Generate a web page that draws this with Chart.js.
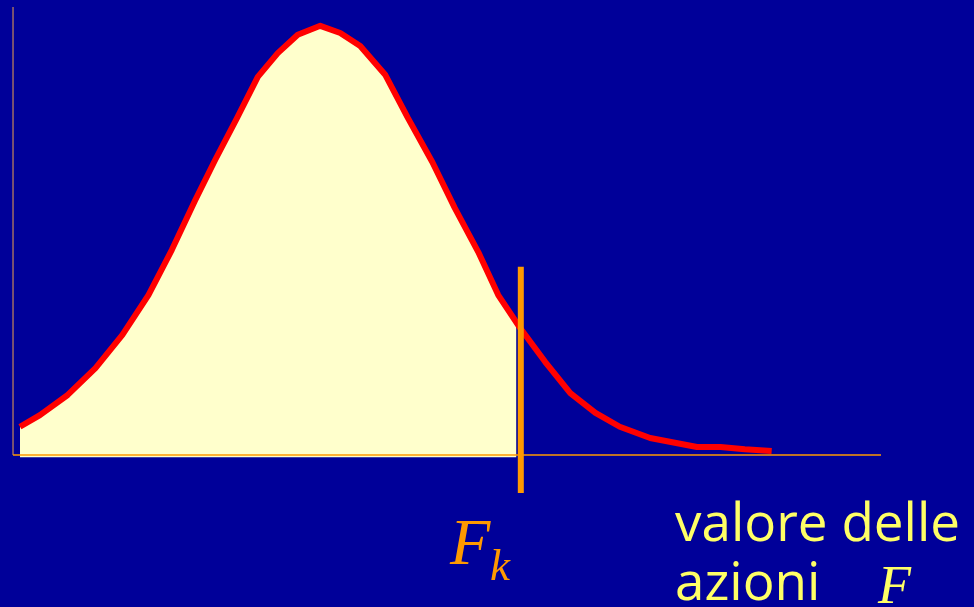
<!DOCTYPE html>
<html>
<head>
<meta charset="utf-8">
<script src="https://cdn.jsdelivr.net/npm/chart.js@4"></script>
<style>
  html, body { margin:0; padding:0; background:#000099; }
  #wrap { width:974px; height:607px; }
</style>
</head>
<body>
<div id="wrap"><canvas id="chart" width="974" height="607"></canvas></div>
<script>
// ── Data (x = share value, y = density, both in 0..100 units) ─────────
const curveX = [0.8, 3.1, 6.3, 9.5, 12.6, 15.6, 18.3, 21.0, 23.3, 25.8, 28.2, 30.5,
                32.8, 35.4, 37.7, 40.0, 42.9, 45.5, 48.3, 50.9, 53.6, 55.9, 58.4,
                61.3, 64.2, 67.1, 69.9, 73.4, 78.8, 81.5, 84.3, 87.4];
const curveY = [6.3, 8.9, 13.4, 19.4, 26.8, 35.7, 45.8, 56.9, 65.9, 75.2, 84.4, 89.7,
                93.8, 95.8, 94.2, 91.3, 84.8, 75.2, 65.4, 55.1, 45.3, 35.7, 28.4,
                20.8, 13.8, 9.4, 6.3, 3.8, 1.8, 1.8, 1.3, 0.9];
const fk       = 58.5;            // threshold F_k
const fkRange  = [-8.5, 42.0];    // extent of the marker line
const fillEnd  = { x: 58.0, y: 29.0 };
const axisMax  = 100;

const C = {
  bg:'#000099', curve:'#ff0000', fill:'#ffffcc', orange:'#ff9900',
  yaxis:'#a06c64', yellow:'#ffff66',
};

const curve = curveX.map((x, i) => ({ x, y: curveY[i] }));
const area  = curve.filter(p => p.x <= fillEnd.x).concat([fillEnd]);

// ── Background + labels ──────────────────────────────────────────
const decor = {
  id:'decor',
  beforeDraw(ch) {
    const c = ch.ctx;
    c.save(); c.fillStyle = C.bg; c.fillRect(0, 0, ch.width, ch.height); c.restore();
  },
  afterDraw(ch) {
    const c = ch.ctx;
    c.save();
    c.textBaseline = 'alphabetic';
    c.fillStyle = C.orange;
    c.font = 'italic 66px "Liberation Serif", serif';
    c.fillText('F', 450, 564);
    c.font = 'italic 45px "Liberation Serif", serif';
    c.fillText('k', 490, 580);

    c.fillStyle = C.yellow;
    c.font = '53px "Comic Sans MS", "Open Sans", sans-serif';
    c.fillText('valore delle', 675, 541);
    c.fillText('azioni', 675, 600);
    c.font = 'italic 54px "Liberation Serif", serif';
    c.fillText('F', 878, 603);
    c.restore();
  }
};

new Chart(document.getElementById('chart'), {
  type:'scatter',
  data:{
    datasets:[
      { data:area, showLine:true, borderWidth:0, pointRadius:0, tension:0,
        backgroundColor:C.fill, fill:{ value:-0.5 }, order:5 },
      { data:[{x:0,y:0},{x:axisMax,y:0}], showLine:true, borderColor:C.orange,
        borderWidth:1.5, pointRadius:0, order:4 },
      { data:[{x:0,y:0},{x:0,y:axisMax}], showLine:true, borderColor:C.yaxis,
        borderWidth:1.5, pointRadius:0, order:4 },
      { data:curve, showLine:true, borderColor:C.curve, borderWidth:6,
        pointRadius:0, tension:0, borderJoinStyle:'round', borderCapStyle:'butt', order:2 },
      { data:[{x:fk,y:fkRange[0]},{x:fk,y:fkRange[1]}], showLine:true,
        borderColor:C.orange, borderWidth:6, pointRadius:0, order:1 },
    ]
  },
  options:{
    responsive:false, animation:false,
    layout:{ padding:0 },
    plugins:{ legend:{ display:false }, tooltip:{ enabled:false } },
    scales:{
      x:{ type:'linear', display:false, min:-1.50, max:110.71 },
      y:{ type:'linear', display:false, min:-33.93, max:101.56 },
    }
  },
  plugins:[decor]
});
</script>
</body>
</html>
